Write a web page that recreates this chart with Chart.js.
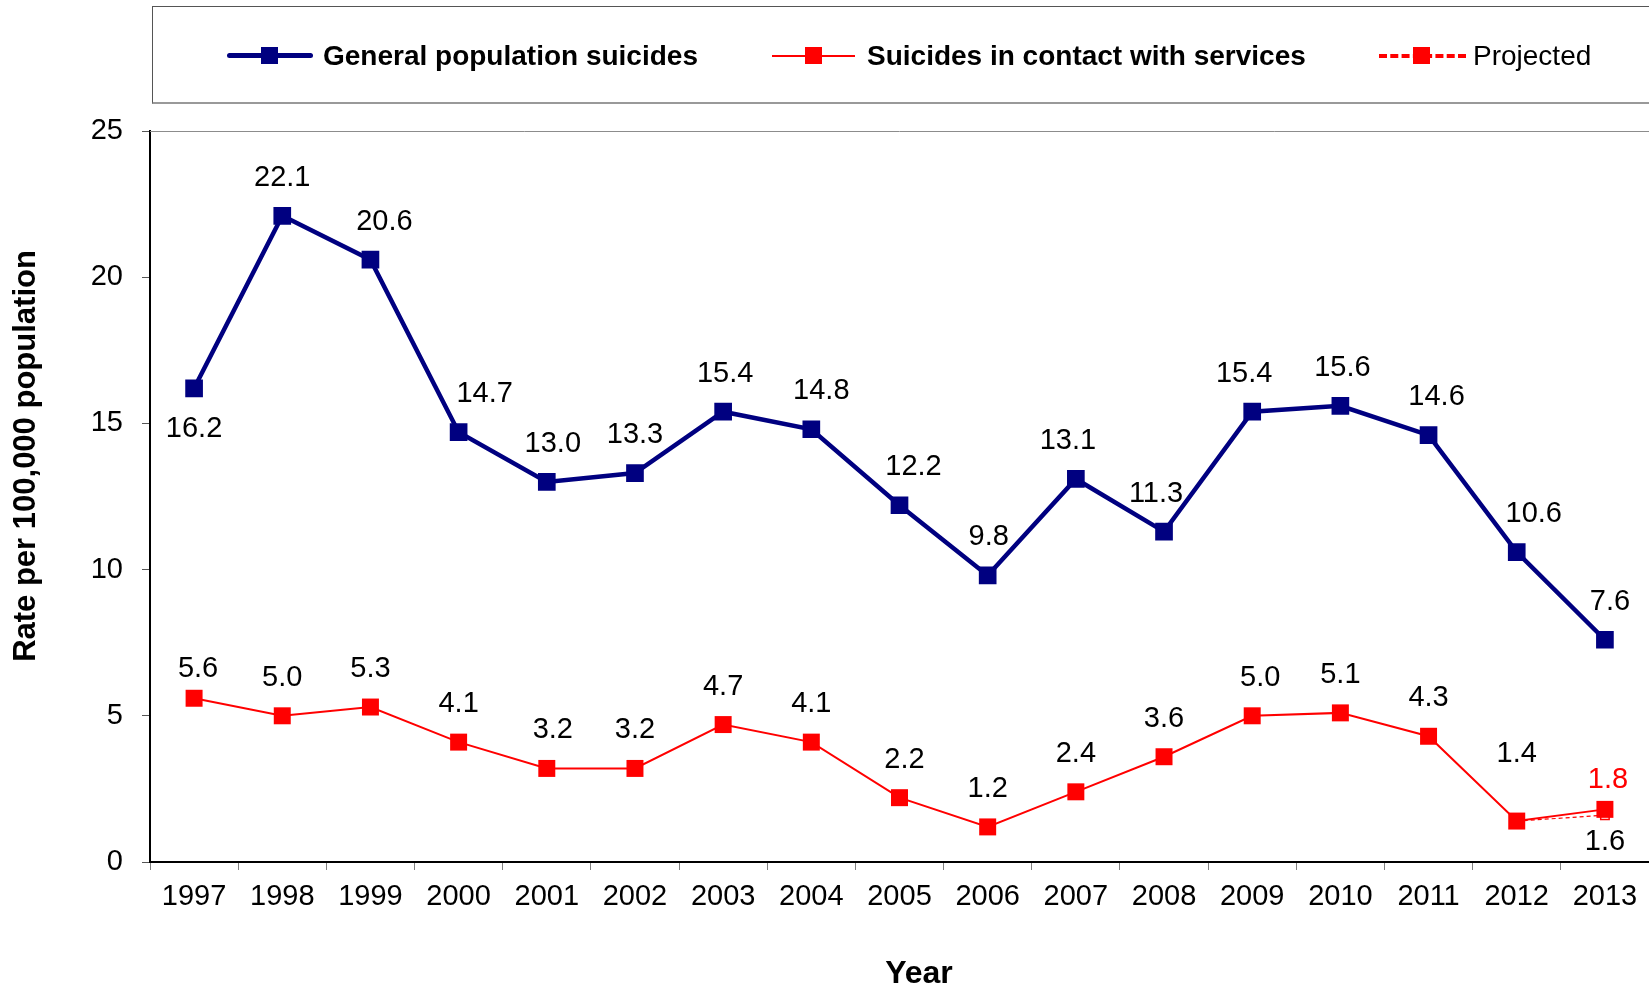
<!DOCTYPE html>
<html lang="en">
<head>
  <meta charset="UTF-8">
  <title>Suicide rates 1997-2013</title>
  <script src="https://cdn.jsdelivr.net/npm/chart.js"></script>
  <style>
    body { margin: 0; overflow: hidden; background: #fff; font-family: "Liberation Sans", Arial, sans-serif; }
    #wrap { position: relative; width: 1649px; height: 991px; }
    #legend {
      position: absolute; left: 152px; top: 6px; width: 1600px; height: 98px;
      border: 1px solid #555; border-bottom: 2px solid #999; box-sizing: border-box;
    }
    .mk { position: absolute; top: 39px; width: 86px; height: 20px; }
    .mk .ln { position: absolute; left: 0; width: 100%; }
    .mk .sq { position: absolute; left: 34px; top: 1px; width: 17px; height: 17px; }
    .txt { position: absolute; top: 33px; font-size: 28px; line-height: 32px; color: #000; white-space: nowrap; }
  </style>
</head>
<body>
<div id="wrap">
  <canvas id="chart" width="1649" height="991"></canvas>
  <div id="legend">
    <div class="mk" style="left:74px">
      <div class="ln" style="top:7px;height:5px;background:#000080;border-radius:3px"></div>
      <div class="sq" style="background:#000080"></div>
    </div>
    <div class="txt" style="left:170px;font-weight:bold">General population suicides</div>

    <div class="mk" style="left:619px;width:83px">
      <div class="ln" style="top:9px;height:2px;background:#ff0000"></div>
      <div class="sq" style="left:33px;background:#ff0000"></div>
    </div>
    <div class="txt" style="left:714px;font-weight:bold">Suicides in contact with services</div>

    <div class="mk" style="left:1226px;width:87px">
      <div class="ln" style="top:8px;height:0;border-top:4px dashed #ff0000"></div>
      <div class="sq" style="background:#ff0000"></div>
    </div>
    <div class="txt" style="left:1320px">Projected</div>
  </div>
</div>

<script>
// data
const years = ['1997', '1998', '1999', '2000', '2001', '2002', '2003', '2004', '2005',
               '2006', '2007', '2008', '2009', '2010', '2011', '2012', '2013'];
const generalRates = [16.2, 22.1, 20.6, 14.7, 13.0, 13.3, 15.4, 14.8, 12.2, 9.8, 13.1, 11.3, 15.4, 15.6, 14.6, 10.6, 7.6];
const contactRates = [5.6, 5.0, 5.3, 4.1, 3.2, 3.2, 4.7, 4.1, 2.2, 1.2, 2.4, 3.6, 5.0, 5.1, 4.3, 1.4, 1.8];
const projectedRates = [null, null, null, null, null, null, null, null, null, null, null, null, null, null, null, 1.4, 1.6];
const yTicks = [0, 5, 10, 15, 20, 25];

// label nudges (px) so the value labels sit where the original put them
const generalDx = [0, 0, 14, 26, 6, 0, 2, 10, 14, 1, -8, -8, -8, 2, 8, 17, 5];
const contactDx = { 0: 4, 4: 6, 8: 5, 12: 8, 16: 3 };
const contactDy = { 0: -29, 15: -67, 16: -29 };

const NAVY = '#000080';
const RED = '#ff0000';
const FONT = '"Liberation Sans", Arial, sans-serif';

const extras = {
  id: 'extras',
  afterDatasetsDraw(chart) {
    const ctx = chart.ctx;
    const area = chart.chartArea;
    ctx.save();
    // grey frame line along the top of the plot
    ctx.strokeStyle = '#8c8c8c';
    ctx.lineWidth = 1;
    ctx.beginPath();
    ctx.moveTo(area.left, area.top + 0.5);
    ctx.lineTo(area.right, area.top + 0.5);
    ctx.stroke();

    // value labels
    ctx.font = '29px ' + FONT;
    ctx.textAlign = 'center';
    ctx.textBaseline = 'middle';
    chart.data.datasets.forEach((ds, i) => {
      const meta = chart.getDatasetMeta(i);
      meta.data.forEach((pt, j) => {
        const v = ds.data[j];
        if (v == null) return;
        const lab = ds.labelAt(j);
        if (!lab) return;
        ctx.fillStyle = lab.color;
        ctx.fillText(v.toFixed(1), pt.x + lab.dx, pt.y + lab.dy);
      });
    });

    // axis titles
    ctx.fillStyle = '#000';
    ctx.font = 'bold 32px ' + FONT;
    ctx.fillText('Year', 919, 974);
    ctx.translate(26, 456);
    ctx.rotate(-Math.PI / 2);
    ctx.font = 'bold 31px ' + FONT;
    ctx.fillText('Rate per 100,000 population', 0, 0);
    ctx.restore();
  }
};

new Chart(document.getElementById('chart').getContext('2d'), {
  type: 'line',
  data: {
    labels: years,
    datasets: [
      {
        label: 'General population suicides',
        data: generalRates,
        borderColor: NAVY,
        backgroundColor: NAVY,
        borderWidth: 4.5,
        pointStyle: 'rect',
        pointRadius: 12.5,
        pointBorderWidth: 0,
        tension: 0,
        order: 1,
        labelAt: j => ({ dx: generalDx[j], dy: j === 0 ? 41 : -38, color: '#000' })
      },
      {
        label: 'Suicides in contact with services',
        data: contactRates,
        borderColor: RED,
        backgroundColor: RED,
        borderWidth: 2,
        pointStyle: 'rect',
        pointRadius: 12,
        pointBorderWidth: 0,
        tension: 0,
        order: 2,
        labelAt: j => ({
          dx: contactDx[j] || 0,
          dy: contactDy[j] !== undefined ? contactDy[j] : -38,
          color: j === 16 ? RED : '#000'
        })
      },
      {
        label: 'Projected',
        data: projectedRates,
        borderColor: RED,
        backgroundColor: '#fff',
        borderWidth: 1.2,
        borderDash: [4, 3],
        pointStyle: 'rect',
        pointRadius: ctx => ctx.dataIndex === 16 ? 6 : 0,
        pointBorderColor: RED,
        pointBackgroundColor: '#fff',
        pointBorderWidth: 1.5,
        tension: 0,
        order: 3,
        labelAt: j => j === 16 ? { dx: 0, dy: 27, color: '#000' } : null
      }
    ]
  },
  options: {
    responsive: false,
    animation: false,
    layout: { autoPadding: false, padding: { left: 0, top: 131, right: -3, bottom: 0 } },
    plugins: {
      legend: { display: false },
      tooltip: { enabled: false }
    },
    scales: {
      x: {
        offset: true,
        afterFit: s => { s.height = 129; s.paddingLeft = 0; s.paddingRight = 0; },
        grid: { drawOnChartArea: false, drawTicks: true, tickLength: 8, color: '#808080', offset: true },
        border: { color: '#000', width: 2 },
        ticks: { font: { size: 29, family: FONT }, color: '#000', padding: 10, maxRotation: 0, autoSkip: false }
      },
      y: {
        min: 0,
        max: 25,
        afterFit: s => { s.width = 150; },
        afterBuildTicks: s => { s.ticks = yTicks.map(v => ({ value: v })); },
        grid: { drawOnChartArea: false, drawTicks: true, tickLength: 8, color: '#555' },
        border: { color: '#000', width: 2 },
        ticks: { font: { size: 29, family: FONT }, color: '#000', padding: 19 }
      }
    }
  },
  plugins: [extras]
});
</script>
</body>
</html>
